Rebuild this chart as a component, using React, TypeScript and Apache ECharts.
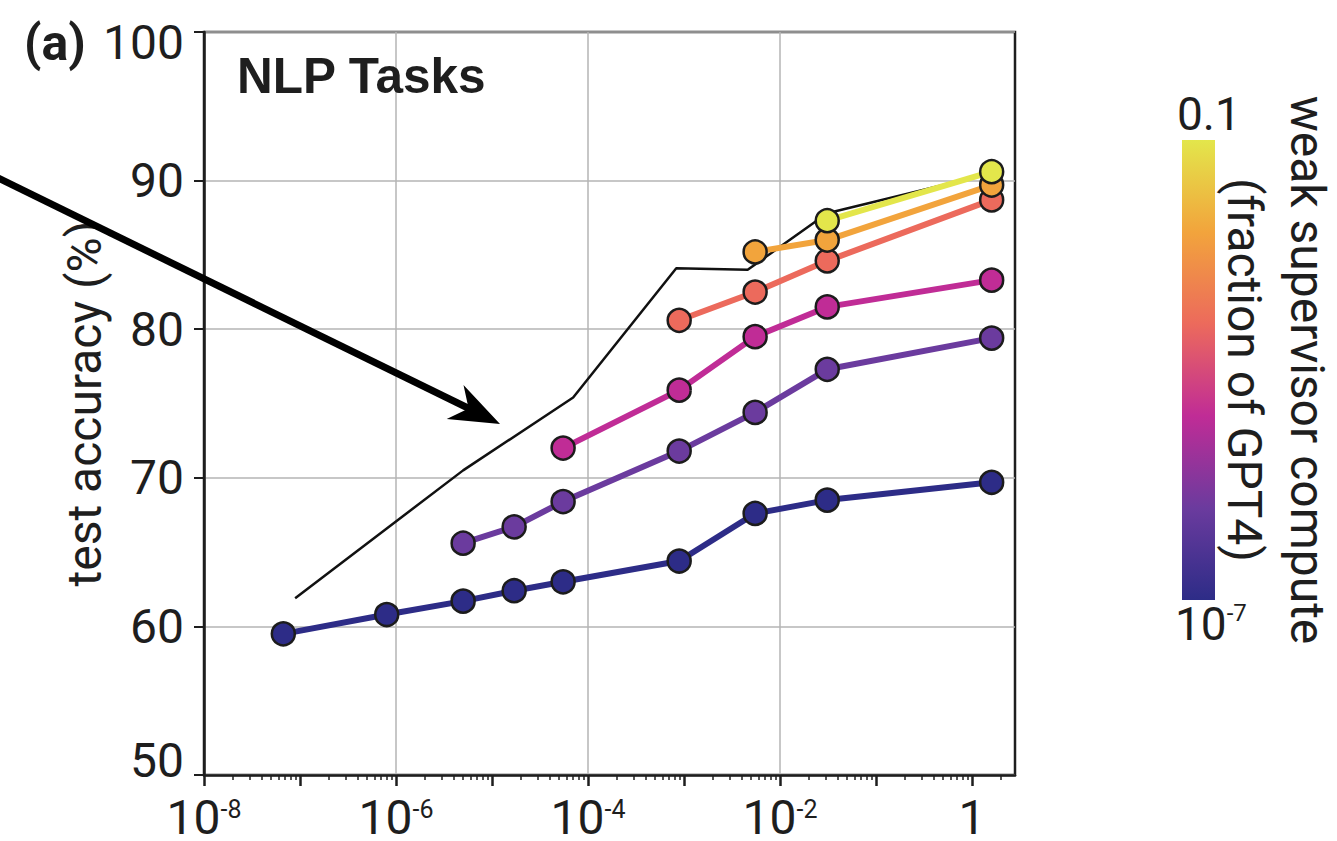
import React, { useEffect, useRef } from "react";
import * as echarts from "echarts";

// Strong student compute (fraction of GPT4) shared by the weak-to-strong curves
const strongCompute = [6.7e-8, 8.0e-7, 5.0e-6, 1.7e-5, 5.5e-5, 8.9e-4, 5.5e-3, 3.1e-2, 1.6];

// Test accuracy (%) per weak supervisor, aligned with strongCompute (null = not run)
const weakSup1 = [59.5, 60.8, 61.7, 62.4, 63.0, 64.4, 67.6, 68.5, 69.7];
const weakSup2 = [null, null, 65.6, 66.7, 68.4, 71.8, 74.4, 77.3, 79.4];
const weakSup3 = [null, null, null, null, 72.0, 75.9, 79.5, 81.5, 83.3];
const weakSup4 = [null, null, null, null, null, 80.6, 82.5, 84.6, 88.7];
const weakSup5 = [null, null, null, null, null, null, 85.2, 86.0, 89.7];
const weakSup6 = [null, null, null, null, null, null, null, 87.3, 90.6];

// Strong ceiling (trained on ground truth)
const ceilingCompute = [8.9e-8, 5.0e-6, 7.0e-5, 8.3e-4, 4.6e-3, 3.1e-2, 1.6];
const ceilingAccuracy = [61.9, 70.5, 75.4, 84.1, 84.0, 87.8, 90.5];

// Colours from the weak supervisor compute scale, 10^-7 (bottom) to 0.1 (top)
const weakColors = ["#2d2c87", "#6b3b9e", "#c02c96", "#ec6a5c", "#f2a43c", "#e3e64b"];

// Axis ticks
const xMin = 1e-8;
const xMax = 2.8;
const xLabelTicks = [1e-8, 1e-6, 1e-4, 1e-2, 1];
const xGridTicks = [1e-6, 1e-4, 1e-2];
const xDecadeTicks = [1e-8, 1e-7, 1e-6, 1e-5, 1e-4, 1e-3, 1e-2, 1e-1, 1];
const xMinorTicks: number[] = [];
for (let e = -8; e <= 0; e++) {
  for (let k = 2; k <= 9; k++) {
    const v = k * Math.pow(10, e);
    if (v <= xMax) xMinorTicks.push(v);
  }
}
const yMin = 50;
const yMax = 100;
const yStep = 10;

const FONT = "Roboto";
const INK = "#1e1e1e";
const GRID = "#b5b5b5";

function toPairs(vals: (number | null)[]) {
  const out: [number, number][] = [];
  vals.forEach((v, i) => {
    if (v != null) out.push([strongCompute[i], v]);
  });
  return out;
}

function buildOption() {
  const weakSeries = [weakSup1, weakSup2, weakSup3, weakSup4, weakSup5, weakSup6];

  const series: any[] = [
    {
      type: "line",
      name: "strong ceiling",
      data: ceilingCompute.map((x, i) => [x, ceilingAccuracy[i]]),
      symbol: "none",
      lineStyle: { color: "#111", width: 2.5 },
      z: 2,
      silent: true,
    },
    ...weakSeries.map((vals, i) => ({
      type: "line",
      name: `weak supervisor ${i + 1}`,
      data: toPairs(vals),
      symbol: "circle",
      symbolSize: 23,
      showSymbol: true,
      lineStyle: { color: weakColors[i], width: 6 },
      itemStyle: { color: weakColors[i], borderColor: "#1c1c1c", borderWidth: 2.5 },
      z: 3 + i,
      silent: true,
    })),
  ];

  const supRich = {
    b: { fontFamily: FONT, fontSize: 48, lineHeight: 40, color: INK },
    s: { fontFamily: FONT, fontSize: 25, lineHeight: 30, color: INK, verticalAlign: "top" },
  };

  const logAxisBase = {
    type: "log",
    logBase: 10,
    min: xMin,
    max: xMax,
    position: "bottom",
    gridIndex: 0,
    minorTick: { show: false },
    minorSplitLine: { show: false },
  };

  return {
    animation: false,
    backgroundColor: "#ffffff",
    textStyle: { fontFamily: FONT },
    grid: {
      left: 204,
      right: 322,
      top: 32,
      bottom: 66,
      show: true,
      borderColor: INK,
      borderWidth: 2.5,
      backgroundColor: "transparent",
    },
    xAxis: [
      {
        ...logAxisBase,
        axisLine: { show: true, onZero: false, lineStyle: { color: INK, width: 2.5 } },
        axisTick: { show: false, customValues: xGridTicks },
        axisLabel: {
          customValues: xLabelTicks,
          margin: 22,
          formatter: (v: number) => {
            const e = Math.round(Math.log10(v));
            return e === 0 ? "{b|1}" : `{b|10}{s|${e}}`;
          },
          rich: supRich,
        },
        splitLine: { show: true, lineStyle: { color: GRID, width: 1.5 } },
      },
      {
        ...logAxisBase,
        axisLine: { show: false },
        axisLabel: { show: false },
        splitLine: { show: false },
        axisTick: { show: true, customValues: xDecadeTicks, length: 11, lineStyle: { color: INK, width: 2.5 } },
      },
      {
        ...logAxisBase,
        axisLine: { show: false },
        axisLabel: { show: false },
        splitLine: { show: false },
        axisTick: { show: true, customValues: xMinorTicks, length: 5, lineStyle: { color: INK, width: 1.5 } },
      },
    ],
    yAxis: {
      type: "value",
      min: yMin,
      max: yMax,
      interval: yStep,
      axisLine: { show: true, lineStyle: { color: INK, width: 2.5 } },
      axisTick: { show: true, length: 10, lineStyle: { color: INK, width: 2 } },
      axisLabel: {
        margin: 20,
        formatter: (v: number) => (v === yMax ? `{hi|${v}}` : v === yMin ? `{lo|${v}}` : `{n|${v}}`),
        rich: {
          n: { fontFamily: FONT, fontSize: 48, color: INK },
          hi: { fontFamily: FONT, fontSize: 48, color: INK, padding: [20, 0, 0, 0] },
          lo: { fontFamily: FONT, fontSize: 48, color: INK, padding: [0, 0, 30, 0] },
        },
      },
      splitLine: { show: true, lineStyle: { color: GRID, width: 1.5 } },
      name: "test accuracy (%)",
      nameLocation: "middle",
      nameGap: 96,
      nameRotate: 90,
      nameMoveOverlap: false,
      nameTextStyle: { fontFamily: FONT, fontSize: 48, color: INK },
    },
    series,
    graphic: [
      {
        type: "text",
        x: 55,
        y: 43,
        style: { text: "(a)", fontFamily: FONT, fontSize: 50, fontWeight: "bold", fill: INK, align: "center", verticalAlign: "middle" },
      },
      {
        type: "text",
        x: 237,
        y: 75,
        style: {
          text: "NLP Tasks",
          fontFamily: "Liberation Sans",
          fontSize: 49.5,
          fontWeight: "bold",
          fill: INK,
          align: "left",
          verticalAlign: "middle",
        },
        z: 50,
      },
      // colour scale for weak supervisor compute
      {
        type: "rect",
        shape: { x: 1182, y: 140, width: 33, height: 460 },
        style: {
          fill: new echarts.graphic.LinearGradient(
            0,
            1,
            0,
            0,
            weakColors.map((c, i) => ({ offset: i / (weakColors.length - 1), color: c }))
          ),
        },
      },
      {
        type: "text",
        x: 1177,
        y: 114,
        style: { text: "0.1", fontFamily: FONT, fontSize: 46, fill: INK, align: "left", verticalAlign: "middle" },
      },
      {
        type: "text",
        x: 1175,
        y: 624,
        style: {
          text: "{b|10}{s|-7}",
          rich: {
            b: { fontFamily: FONT, fontSize: 46, lineHeight: 46, fill: INK, color: INK },
            s: { fontFamily: FONT, fontSize: 24, lineHeight: 34, fill: INK, color: INK, verticalAlign: "top" },
          },
          align: "left",
          verticalAlign: "middle",
        },
      },
      {
        type: "text",
        x: 1307,
        y: 370,
        rotation: -Math.PI / 2,
        style: { text: "weak supervisor compute", fontFamily: FONT, fontSize: 48, fill: INK, align: "center", verticalAlign: "middle" },
      },
      {
        type: "text",
        x: 1244,
        y: 370,
        rotation: -Math.PI / 2,
        style: { text: "(fraction of GPT4)", fontFamily: FONT, fontSize: 48, fill: INK, align: "center", verticalAlign: "middle" },
      },
      // pointer arrow
      {
        type: "line",
        z: 100,
        shape: { x1: -6, y1: 176, x2: 472, y2: 410 },
        style: { stroke: "#000", lineWidth: 7 },
      },
      {
        type: "polygon",
        z: 101,
        shape: {
          points: [
            [500, 424],
            [463.5, 385],
            [468.6, 408.6],
            [446.7, 419.1],
          ],
        },
        style: { fill: "#000" },
      },
    ],
  };
}

export default function App() {
  const ref = useRef<HTMLDivElement>(null);
  useEffect(() => {
    if (!ref.current) return;
    const chart = echarts.init(ref.current, null, { renderer: "svg" });
    chart.setOption(buildOption() as any);
    return () => chart.dispose();
  }, []);
  return (
    <div
      ref={ref}
      style={{ position: "fixed", left: 0, top: 0, width: 1337, height: 841, background: "#fff" }}
    />
  );
}
